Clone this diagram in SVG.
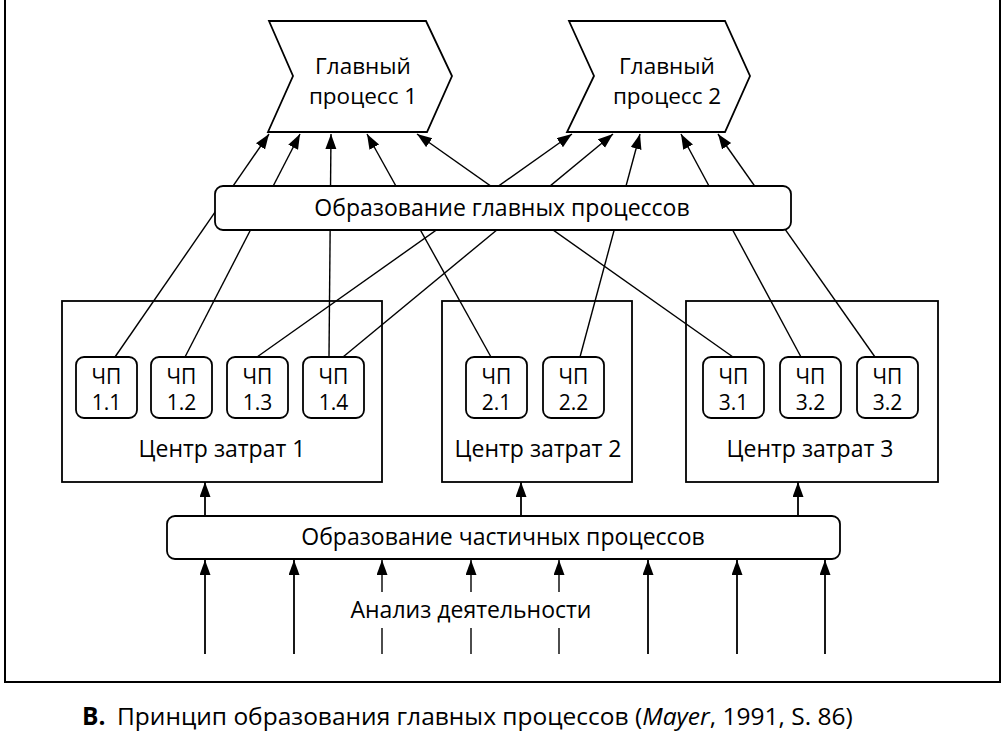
<svg xmlns="http://www.w3.org/2000/svg" width="1008" height="731" viewBox="0 0 1008 731">
<style>
text{font-family:"Open Sans","Noto Sans","Liberation Sans",sans-serif;fill:#000}
.t{font-size:23px;text-anchor:middle}
.m{font-size:22.5px;text-anchor:middle}
.cp{font-size:21px;text-anchor:middle}
.sh{fill:#fff;stroke:#000;stroke-width:1.8}
.ln{stroke:#000;stroke-width:1.4;fill:none}
.ar{stroke:#000;stroke-width:1.8;fill:none}
</style>
<defs>
<marker id="ah" markerUnits="userSpaceOnUse" markerWidth="16" markerHeight="12" refX="15" refY="5.5" orient="auto">
<path d="M0,0 L15,5.5 L0,11 Z" fill="#000"/>
</marker>
</defs>
<rect width="1008" height="731" fill="#fff"/>
<path d="M5,0 V682 H1000 V0" fill="none" stroke="#000" stroke-width="2"/>

<g id="connectors">
<line class="ln" x1="115" y1="357" x2="269" y2="134" marker-end="url(#ah)"/>
<line class="ln" x1="185" y1="357" x2="300" y2="134" marker-end="url(#ah)"/>
<line class="ln" x1="329" y1="357" x2="331" y2="134" marker-end="url(#ah)"/>
<line class="ln" x1="491" y1="357" x2="367" y2="134" marker-end="url(#ah)"/>
<line class="ln" x1="733" y1="357" x2="417" y2="134" marker-end="url(#ah)"/>
<line class="ln" x1="257" y1="357" x2="572" y2="134" marker-end="url(#ah)"/>
<line class="ln" x1="343" y1="357" x2="613" y2="134" marker-end="url(#ah)"/>
<line class="ln" x1="580" y1="357" x2="640" y2="134" marker-end="url(#ah)"/>
<line class="ln" x1="801" y1="357" x2="681" y2="134" marker-end="url(#ah)"/>
<line class="ln" x1="875" y1="357" x2="718" y2="134" marker-end="url(#ah)"/>
<line class="ar" x1="205" y1="516" x2="205" y2="482" marker-end="url(#ah)"/>
<line class="ar" x1="521" y1="516" x2="521" y2="482" marker-end="url(#ah)"/>
<line class="ar" x1="798" y1="516" x2="798" y2="482" marker-end="url(#ah)"/>
<line class="ar" x1="205" y1="654" x2="205" y2="560" marker-end="url(#ah)"/>
<line class="ar" x1="294" y1="654" x2="294" y2="560" marker-end="url(#ah)"/>
<line class="ln" x1="382" y1="592" x2="382" y2="560" marker-end="url(#ah)"/>
<line class="ln" x1="382" y1="654" x2="382" y2="628"/>
<line class="ln" x1="471" y1="592" x2="471" y2="560" marker-end="url(#ah)"/>
<line class="ln" x1="471" y1="654" x2="471" y2="628"/>
<line class="ln" x1="559" y1="592" x2="559" y2="560" marker-end="url(#ah)"/>
<line class="ln" x1="559" y1="654" x2="559" y2="628"/>
<line class="ar" x1="648" y1="654" x2="648" y2="560" marker-end="url(#ah)"/>
<line class="ar" x1="737" y1="654" x2="737" y2="560" marker-end="url(#ah)"/>
<line class="ar" x1="825" y1="654" x2="825" y2="560" marker-end="url(#ah)"/>
</g>

<g id="mp1">
<path class="sh" d="M269,21 L426,21 L452,76 L427,132 L268,132 L293,76 Z"/>
<text class="m" x="363" y="74">Главный</text>
<text class="m" x="363" y="104">процесс 1</text>
</g>
<g id="mp2">
<path class="sh" d="M569,21 L725,21 L750,76 L725,132 L567,132 L594,76 Z"/>
<text class="m" x="667" y="74">Главный</text>
<text class="m" x="667" y="104">процесс 2</text>
</g>

<g id="main-formation">
<rect class="sh" x="215" y="186" width="576" height="44" rx="8"/>
<text class="t" x="502" y="216">Образование главных процессов</text>
</g>

<g id="cc1">
<rect x="62" y="301" width="320" height="181" fill="none" stroke="#000" stroke-width="1.8"/>
<text class="t" x="222" y="457">Центр затрат 1</text>
</g>
<g id="cc2">
<rect x="442" y="301" width="190" height="181" fill="none" stroke="#000" stroke-width="1.8"/>
<text class="t" x="538" y="457">Центр затрат 2</text>
</g>
<g id="cc3">
<rect x="686" y="301" width="252" height="181" fill="none" stroke="#000" stroke-width="1.8"/>
<text class="t" x="810" y="457">Центр затрат 3</text>
</g>

<g id="p11"><rect class="sh" x="76" y="357" width="61" height="61" rx="8"/><text class="cp" x="106.5" y="384">ЧП</text><text class="cp" x="106.5" y="410">1.1</text></g>
<g id="p12"><rect class="sh" x="151" y="357" width="61" height="61" rx="8"/><text class="cp" x="181.5" y="384">ЧП</text><text class="cp" x="181.5" y="410">1.2</text></g>
<g id="p13"><rect class="sh" x="227" y="357" width="61" height="61" rx="8"/><text class="cp" x="257.5" y="384">ЧП</text><text class="cp" x="257.5" y="410">1.3</text></g>
<g id="p14"><rect class="sh" x="303" y="357" width="61" height="61" rx="8"/><text class="cp" x="333.5" y="384">ЧП</text><text class="cp" x="333.5" y="410">1.4</text></g>
<g id="p21"><rect class="sh" x="466" y="357" width="61" height="61" rx="8"/><text class="cp" x="496.5" y="384">ЧП</text><text class="cp" x="496.5" y="410">2.1</text></g>
<g id="p22"><rect class="sh" x="543" y="357" width="61" height="61" rx="8"/><text class="cp" x="573.5" y="384">ЧП</text><text class="cp" x="573.5" y="410">2.2</text></g>
<g id="p31"><rect class="sh" x="703" y="357" width="61" height="61" rx="8"/><text class="cp" x="733.5" y="384">ЧП</text><text class="cp" x="733.5" y="410">3.1</text></g>
<g id="p32"><rect class="sh" x="780" y="357" width="61" height="61" rx="8"/><text class="cp" x="810.5" y="384">ЧП</text><text class="cp" x="810.5" y="410">3.2</text></g>
<g id="p33"><rect class="sh" x="857" y="357" width="61" height="61" rx="8"/><text class="cp" x="887.5" y="384">ЧП</text><text class="cp" x="887.5" y="410">3.2</text></g>

<g id="partial-formation">
<rect class="sh" x="167" y="516" width="673" height="43" rx="8"/>
<text class="t" x="503" y="545">Образование частичных процессов</text>
</g>

<text class="t" x="471" y="618">Анализ деятельности</text>

<text x="82" y="725" style="font-size:24.5px"><tspan font-weight="bold">В.</tspan><tspan x="117">Принцип образования главных процессов (</tspan><tspan font-style="italic">Mayer</tspan><tspan>, 1991, S. 86)</tspan></text>
</svg>
